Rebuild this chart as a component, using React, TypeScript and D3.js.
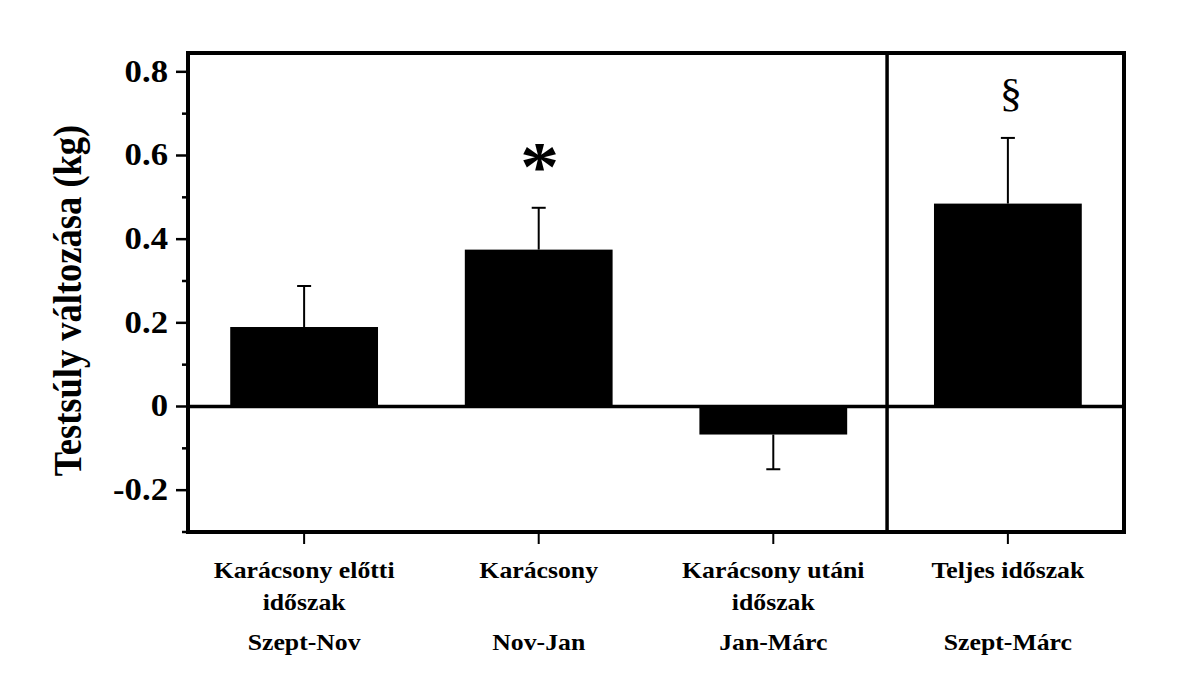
import React from "react";
import * as d3 from "d3";

const categories = ["pre", "xmas", "post", "total"];
const labelLine1 = ["Karácsony előtti", "Karácsony", "Karácsony utáni", "Teljes időszak"];
const labelLine2 = ["időszak", "", "időszak", ""];
const periods = ["Szept-Nov", "Nov-Jan", "Jan-Márc", "Szept-Márc"];
const values = [0.19, 0.375, -0.067, 0.485];
const errors = [0.098, 0.1, 0.083, 0.157];
const marks = ["", "*", "", "§"];
const majorTicks = [-0.2, 0, 0.2, 0.4, 0.6, 0.8];
const minorTicks = [-0.3, -0.1, 0.1, 0.3, 0.5, 0.7];
const tickLabels = ["-0.2", "0", "0.2", "0.4", "0.6", "0.8"];
const yTitle = "Testsúly változása (kg)";

const W = 1200;
const H = 698;
const FONT = "Liberation Serif, Times New Roman, Tinos, serif";
const SX = 1.12;

export default function App() {
  const left = 188;
  const right = 1124;
  const top = 53;
  const bottom = 532;
  const y = d3.scaleLinear().domain([-0.3, 0.845]).range([bottom, top]);
  const x = d3
    .scaleBand<string>()
    .domain(categories)
    .range([left, right])
    .paddingInner(0.37)
    .paddingOuter(0.18);
  const bw = x.bandwidth();
  const step = x.step();
  const dividerX = (x("total") as number) - step * 0.2;

  const stretched = (tx: number, ty: number) => `translate(${tx},${ty}) scale(${SX},1)`;

  return (
    <svg width={W} height={H} style={{ position: "absolute", left: 0, top: 0, background: "#fff" }}>
      <rect x={0} y={0} width={W} height={H} fill="#fff" />
      {/* bars */}
      {categories.map((c, i) => {
        const x0 = x(c) as number;
        const v = values[i];
        return (
          <rect
            key={"b" + c}
            x={x0}
            width={bw}
            y={Math.min(y(v), y(0))}
            height={Math.abs(y(v) - y(0))}
            fill="#000"
          />
        );
      })}
      {/* error bars */}
      {categories.map((c, i) => {
        const cx = (x(c) as number) + bw / 2;
        const v = values[i];
        const end = v >= 0 ? v + errors[i] : v - errors[i];
        return (
          <g key={"e" + c} stroke="#000" strokeWidth={2}>
            <line x1={cx} x2={cx} y1={y(v)} y2={y(end)} />
            <line x1={cx - 7} x2={cx + 7} y1={y(end)} y2={y(end)} />
          </g>
        );
      })}
      {/* zero line */}
      <line x1={left} x2={right} y1={y(0)} y2={y(0)} stroke="#000" strokeWidth={3.5} />
      {/* divider */}
      <line x1={dividerX} x2={dividerX} y1={top} y2={bottom} stroke="#000" strokeWidth={3.5} />
      {/* frame */}
      <rect x={left} y={top} width={right - left} height={bottom - top} fill="none" stroke="#000" strokeWidth={4} />
      {/* y ticks */}
      {majorTicks.map((t, i) => (
        <g key={"t" + t}>
          <line x1={left - 12} x2={left - 2} y1={y(t)} y2={y(t)} stroke="#000" strokeWidth={2.5} />
          <text
            transform={stretched(168, y(t) + 10)}
            textAnchor="end"
            style={{ fontFamily: FONT, fontWeight: 700, fontSize: 31 }}
            fill="#000"
          >
            {tickLabels[i]}
          </text>
        </g>
      ))}
      {minorTicks.map((t) => (
        <line key={"m" + t} x1={left - 6} x2={left - 2} y1={y(t)} y2={y(t)} stroke="#000" strokeWidth={2.5} />
      ))}
      {/* x ticks */}
      {categories.map((c) => {
        const cx = (x(c) as number) + bw / 2;
        return <line key={"xt" + c} x1={cx} x2={cx} y1={bottom} y2={bottom + 12} stroke="#000" strokeWidth={2} />;
      })}
      {/* x labels */}
      {categories.map((c, i) => {
        const cx = (x(c) as number) + bw / 2;
        return (
          <g key={"xl" + c} style={{ fontFamily: FONT, fontWeight: 700, fontSize: 23 }} fill="#000">
            <text transform={stretched(cx, 578)} textAnchor="middle">{labelLine1[i]}</text>
            {labelLine2[i] && (
              <text transform={stretched(cx, 610)} textAnchor="middle">{labelLine2[i]}</text>
            )}
            <text transform={stretched(cx, 650)} textAnchor="middle">{periods[i]}</text>
          </g>
        );
      })}
      {/* significance marks */}
      {categories.map((c, i) => {
        if (!marks[i]) return null;
        const cx = (x(c) as number) + bw / 2;
        const end = values[i] + errors[i];
        const isStar = marks[i] === "*";
        return (
          <text
            key={"s" + c}
            transform={stretched(cx + (isStar ? 1 : 3), isStar ? y(end) - 18 : y(end) - 32)}
            textAnchor="middle"
            style={{ fontFamily: FONT, fontWeight: isStar ? 700 : 400, fontSize: isStar ? 70 : 40 }}
            fill="#000"
          >
            {marks[i]}
          </text>
        );
      })}
      {/* y title */}
      <text
        transform={`translate(81,${(top + bottom) / 2 + 8}) scale(${SX},1) rotate(-90)`}
        textAnchor="middle"
        style={{ fontFamily: FONT, fontWeight: 700, fontSize: 36.5 }}
        fill="#000"
      >
        {yTitle}
      </text>
    </svg>
  );
}
